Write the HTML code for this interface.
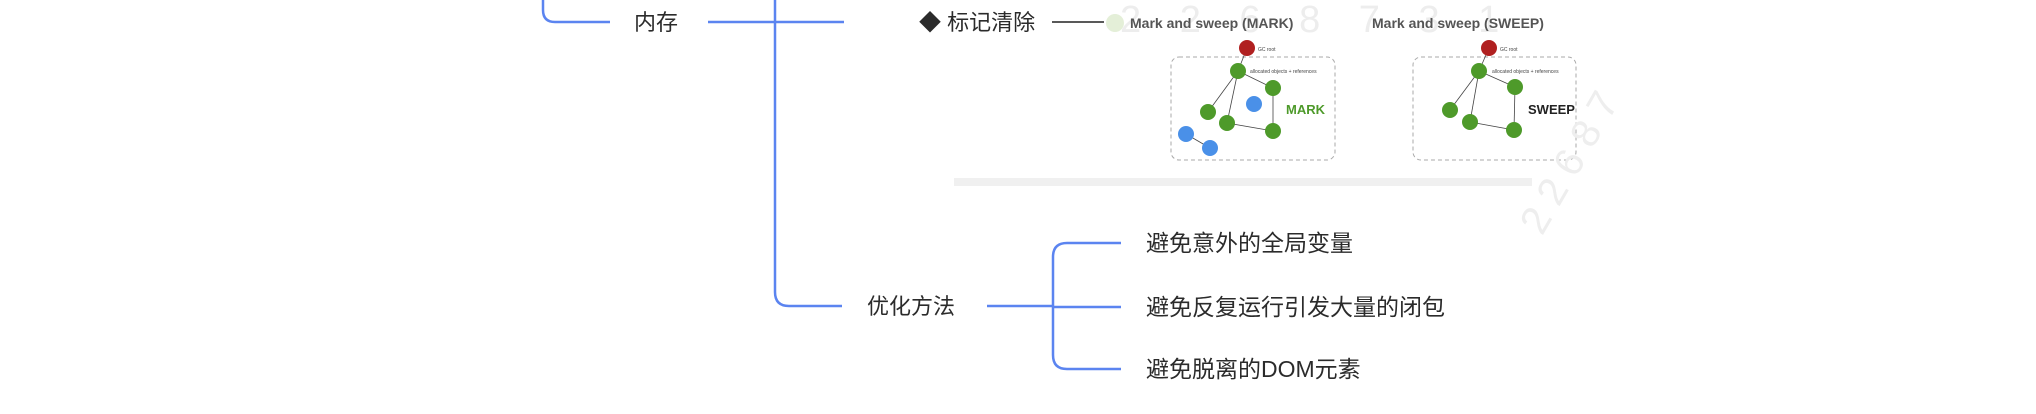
<!DOCTYPE html>
<html><head><meta charset="utf-8"><style>
html,body{margin:0;padding:0;background:#fff;width:2036px;height:414px;overflow:hidden}
svg{display:block}
.t{font-family:"Liberation Sans","Noto Sans CJK SC",sans-serif;fill:#2b2b2b}
</style></head><body>
<svg width="2036" height="414" viewBox="0 0 2036 414" xmlns="http://www.w3.org/2000/svg">
<g fill="none" stroke="#5b84f0" stroke-width="2.5">
<path d="M543 0 V10 Q543 22 555 22 H610"/>
<path d="M708 22 H844"/>
<path d="M775 0 V292 Q775 306 789 306 H842"/>
<path d="M987 306 H1053"/>
<path d="M1121 243 H1067 Q1053 243 1053 257 V355 Q1053 369 1067 369 H1121"/>
<path d="M1053 307 H1121"/>
</g>
<text class="t" x="634" y="30" font-size="22">内存</text>
<text class="t" x="867" y="314" font-size="22">优化方法</text>
<text class="t" x="919" y="30" font-size="22">◆ 标记清除</text>
<line x1="1052" y1="22" x2="1104" y2="22" stroke="#222" stroke-width="1.5"/>
<text class="t" x="1146" y="251" font-size="23">避免意外的全局变量</text>
<text class="t" x="1146" y="315" font-size="23">避免反复运行引发大量的闭包</text>
<text class="t" x="1146" y="377" font-size="23">避免脱离的DOM元素</text>
<rect x="954" y="178" width="578" height="8" fill="#f0f0f0"/>
<text x="1120" y="32" font-size="38" fill="#ededed" font-family="Liberation Sans,sans-serif" letter-spacing="14">2 2 6 8 7 3 1</text>
<circle cx="1115" cy="23" r="9" fill="#e4efd8"/>
<text x="1130" y="28" font-size="14" font-weight="bold" fill="#555" font-family="Liberation Sans,sans-serif">Mark and sweep (MARK)</text>
<text x="1372" y="28" font-size="14" font-weight="bold" fill="#555" font-family="Liberation Sans,sans-serif">Mark and sweep (SWEEP)</text>
<rect x="1171" y="57" width="164" height="103" rx="8" fill="none" stroke="#aaa" stroke-dasharray="4 3"/>
<rect x="1413" y="57" width="163" height="103" rx="8" fill="none" stroke="#aaa" stroke-dasharray="4 3"/>
<g stroke="#444" stroke-width="0.8">
<line x1="1247" y1="48" x2="1238" y2="71"/><line x1="1238" y1="71" x2="1273" y2="88"/><line x1="1238" y1="71" x2="1208" y2="112"/><line x1="1238" y1="71" x2="1227" y2="123"/><line x1="1227" y1="123" x2="1273" y2="131"/><line x1="1273" y1="131" x2="1273" y2="88"/><line x1="1186" y1="134" x2="1210" y2="148"/>
<line x1="1489" y1="48" x2="1479" y2="71"/><line x1="1479" y1="71" x2="1515" y2="87"/><line x1="1479" y1="71" x2="1450" y2="110"/><line x1="1479" y1="71" x2="1470" y2="122"/><line x1="1470" y1="122" x2="1514" y2="130"/><line x1="1514" y1="130" x2="1515" y2="87"/>
</g>
<g fill="#4e9a2a">
<circle cx="1238" cy="71" r="8"/><circle cx="1273" cy="88" r="8"/><circle cx="1208" cy="112" r="8"/><circle cx="1227" cy="123" r="8"/><circle cx="1273" cy="131" r="8"/>
<circle cx="1479" cy="71" r="8"/><circle cx="1515" cy="87" r="8"/><circle cx="1450" cy="110" r="8"/><circle cx="1470" cy="122" r="8"/><circle cx="1514" cy="130" r="8"/>
</g>
<g fill="#4a90e8"><circle cx="1254" cy="104" r="8"/><circle cx="1186" cy="134" r="8"/><circle cx="1210" cy="148" r="8"/></g>
<g fill="#b02020"><circle cx="1247" cy="48" r="8"/><circle cx="1489" cy="48" r="8"/></g>
<g font-family="Liberation Sans,sans-serif" font-size="5" fill="#444">
<text x="1258" y="51">GC root</text><text x="1250" y="73">allocated objects + references</text>
<text x="1500" y="51">GC root</text><text x="1492" y="73">allocated objects + references</text>
</g>
<text x="1286" y="114" font-size="13" font-weight="bold" fill="#4e9a2a" font-family="Liberation Sans,sans-serif">MARK</text>
<text x="1528" y="114" font-size="13" font-weight="bold" fill="#222" font-family="Liberation Sans,sans-serif">SWEEP</text>
<text x="1440" y="180" font-size="40" fill="#eeeeee" font-family="Liberation Sans,sans-serif" transform="rotate(-60 1540 120)">2 2 6 8 7</text>
</svg>
</body></html>
